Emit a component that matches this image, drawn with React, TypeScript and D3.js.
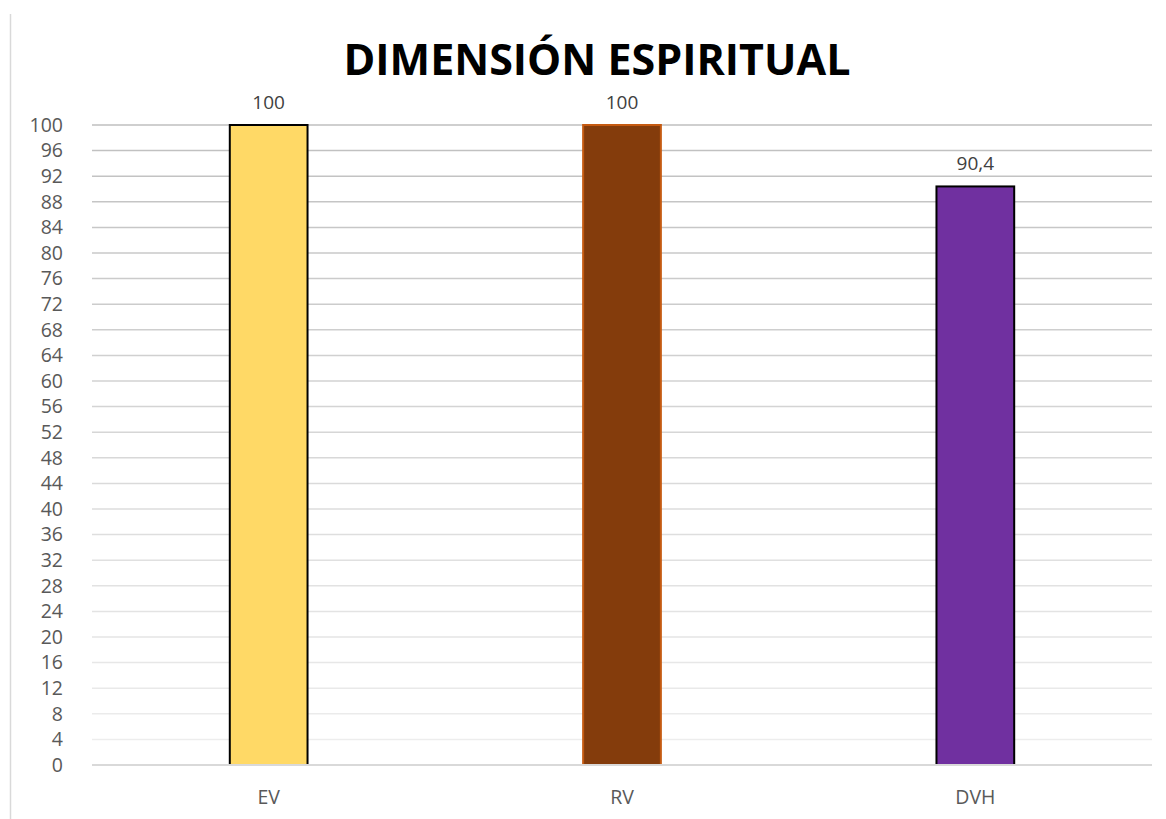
import React, { useEffect, useRef } from "react";
import * as d3 from "d3";

const categories = ["EV", "RV", "DVH"];
const values = [100, 100, 90.4];
const valueLabels = ["100", "100", "90,4"];
const yTicks = d3.range(0, 101, 4);
const title = "DIMENSIÓN ESPIRITUAL";

const fills = ["#FFD966", "#843C0C", "#7030A0"];
const strokes = ["#000000", "#C55A11", "#000000"];

const App: React.FC = () => {
  const ref = useRef<SVGSVGElement>(null);

  useEffect(() => {
    const width = 1166;
    const height = 819;
    const svg = d3.select(ref.current);
    svg.selectAll("*").remove();

    const left = 92;
    const right = 1152;
    const top = 125;
    const bottom = 765;

    const x = d3
      .scaleBand()
      .domain(categories)
      .range([left, right])
      .paddingInner(0.78)
      .paddingOuter(0.39);

    const y = d3.scaleLinear().domain([0, 100]).range([bottom, top]);

    // chart border (left edge visible)
    svg
      .append("line")
      .attr("x1", 10.5)
      .attr("x2", 10.5)
      .attr("y1", 14)
      .attr("y2", height)
      .attr("stroke", "#d9d9d9")
      .attr("stroke-width", 1.5);

    const gridColor = d3.interpolateRgb("#efefef", "#bfbfbf");

    svg
      .append("g")
      .selectAll("line")
      .data(yTicks.filter((t) => t > 0))
      .enter()
      .append("line")
      .attr("x1", left)
      .attr("x2", right)
      .attr("y1", (d) => y(d))
      .attr("y2", (d) => y(d))
      .attr("stroke", (d) => gridColor(d / 100))
      .attr("stroke-width", 1.5);

    const yAxis = d3
      .axisLeft(y)
      .tickValues(yTicks)
      .tickSize(0)
      .tickPadding(29);
    const yg = svg
      .append("g")
      .attr("transform", `translate(${left},0)`)
      .call(yAxis);
    yg.select(".domain").remove();
    yg.selectAll(".tick text")
      .attr("fill", "#595959")
      .attr("font-size", 19.5)
      .attr("font-family", "'Open Sans', sans-serif");

    svg
      .selectAll("rect.bar")
      .data(values)
      .enter()
      .append("rect")
      .attr("class", "bar")
      .attr("x", (d, i) => x(categories[i]) as number)
      .attr("y", (d) => y(d))
      .attr("width", x.bandwidth())
      .attr("height", (d) => y(0) - y(d))
      .attr("fill", (d, i) => fills[i])
      .attr("stroke", (d, i) => strokes[i])
      .attr("stroke-width", 2);

    // x axis baseline
    svg
      .append("line")
      .attr("x1", left)
      .attr("x2", right)
      .attr("y1", y(0))
      .attr("y2", y(0))
      .attr("stroke", "#d9d9d9")
      .attr("stroke-width", 2);

    const xAxis = d3.axisBottom(x).tickSize(0).tickPadding(25);
    const xg = svg
      .append("g")
      .attr("transform", `translate(0,${bottom})`)
      .call(xAxis);
    xg.select(".domain").remove();
    xg.selectAll(".tick text")
      .attr("fill", "#595959")
      .attr("font-size", 19.5)
      .attr("font-family", "'Open Sans', sans-serif");

    svg
      .selectAll("text.vlabel")
      .data(values)
      .enter()
      .append("text")
      .attr("class", "vlabel")
      .attr("x", (d, i) => (x(categories[i]) as number) + x.bandwidth() / 2)
      .attr("y", (d) => y(d) - 16)
      .attr("text-anchor", "middle")
      .attr("fill", "#404040")
      .attr("font-size", 19)
      .attr("font-family", "'Open Sans', sans-serif")
      .text((d, i) => valueLabels[i]);

    svg
      .append("text")
      .attr("x", 597)
      .attr("y", 75)
      .attr("text-anchor", "middle")
      .attr("font-size", 43)
      .attr("font-weight", "bold")
      .attr("font-family", "'Open Sans', sans-serif")
      .attr("fill", "#000000")
      .text(title);

    svg.attr("width", width).attr("height", height);
  }, []);

  return (
    <svg
      ref={ref}
      width={1166}
      height={819}
      style={{ position: "absolute", left: 0, top: 0, background: "#fff" }}
    />
  );
};

export default App;
